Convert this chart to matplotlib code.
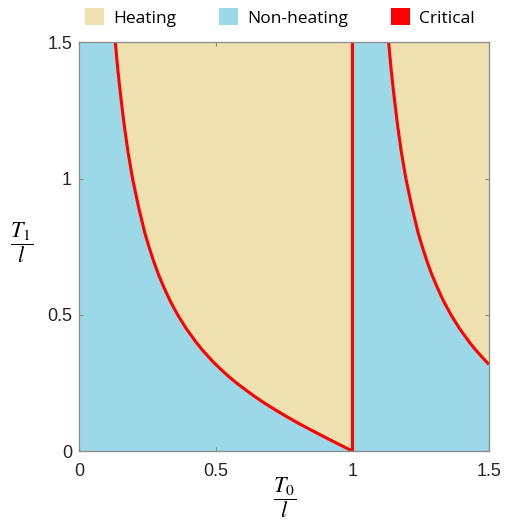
import matplotlib.pyplot as plt
from matplotlib.patches import Patch

# left critical curve (T0/l, T1/l)
t0_a = [0.133, 0.142, 0.153, 0.165, 0.179, 0.196, 0.217, 0.241, 0.256, 0.272,
        0.290, 0.311, 0.334, 0.361, 0.392, 0.428, 0.448, 0.470, 0.493, 0.519,
        0.546, 0.576, 0.609, 0.643, 0.680, 0.720, 0.762, 0.806, 0.853, 0.901,
        0.950, 1.0]
t1_a = [1.5, 1.4, 1.3, 1.2, 1.1, 1.0, 0.9, 0.8, 0.75, 0.7,
        0.65, 0.6, 0.55, 0.5, 0.45, 0.4, 0.375, 0.35, 0.325, 0.3,
        0.275, 0.25, 0.225, 0.2, 0.175, 0.15, 0.125, 0.1, 0.075, 0.05,
        0.025, 0.0]

# right critical curve
t0_b = [1.133, 1.142, 1.153, 1.165, 1.179, 1.196, 1.217, 1.241, 1.256, 1.272,
        1.290, 1.311, 1.334, 1.361, 1.392, 1.428, 1.448, 1.470, 1.493, 1.5]
t1_b = [1.5, 1.4, 1.3, 1.2, 1.1, 1.0, 0.9, 0.8, 0.75, 0.7,
        0.65, 0.6, 0.55, 0.5, 0.45, 0.4, 0.375, 0.35, 0.325, 0.318]

# vertical critical line
t0_v = [1.0, 1.0]
t1_v = [0.0, 1.5]

x_max = 1.5
y_max = 1.5
ticks = [0, 0.5, 1, 1.5]
tick_labels = ['0', '0.5', '1', '1.5']

heat_col = '#EEE1AF'
cold_col = '#9BD8E8'
crit_col = '#FF0000'
grey = '#8a8a8a'

plt.rcParams['font.family'] = ['Liberation Sans', 'DejaVu Sans']
plt.rcParams['mathtext.fontset'] = 'stix'

fig = plt.figure(figsize=(5.05, 5.22), dpi=100)
ax = fig.add_axes([79 / 505, 71 / 522, 410 / 505, 408.5 / 522])
ax.set_facecolor(cold_col)

# heating regions
ax.fill(t0_a + [t0_v[1]], t1_a + [t1_v[1]], color=heat_col, lw=0)
ax.fill(t0_b + [x_max], t1_b + [y_max], color=heat_col, lw=0)

ax.plot(t0_a, t1_a, color=crit_col, lw=2.2, solid_capstyle='butt')
ax.plot(t0_b, t1_b, color=crit_col, lw=2.2, solid_capstyle='butt')
ax.plot(t0_v, t1_v, color=crit_col, lw=2.2, solid_capstyle='butt')

ax.set_xlim(0, x_max)
ax.set_ylim(0, y_max)
ax.set_xticks(ticks)
ax.set_xticklabels(tick_labels)
ax.set_yticks(ticks)
ax.set_yticklabels(tick_labels)
ax.tick_params(direction='in', length=3, width=0.8, color=grey,
               labelsize=13, labelcolor='#262626', top=True, right=True)
ax.tick_params(axis='x', pad=9)
ax.tick_params(axis='y', pad=5)
for s in ax.spines.values():
    s.set_color(grey)
    s.set_linewidth(0.9)

fig.text(285 / 505, 1 - 498 / 522, r'$\dfrac{T_0}{l}$', fontsize=16,
         ha='center', va='center')
fig.text(21.5 / 505, 1 - 243 / 522, r'$\dfrac{T_1}{l}$', fontsize=16,
         ha='center', va='center')

handles = [Patch(facecolor=heat_col, edgecolor='none', label='Heating'),
           Patch(facecolor=cold_col, edgecolor='none', label='Non-heating'),
           Patch(facecolor=crit_col, edgecolor='none', label='Critical')]
fig.legend(handles=handles, loc='center', bbox_to_anchor=(280 / 505, 1 - 17.5 / 522),
           ncol=3, frameon=False, prop={'family': 'Open Sans', 'size': 12.5},
           handlelength=1.1, handleheight=1.1, handletextpad=0.5,
           columnspacing=2.5, borderpad=0)

fig.savefig('out.png', dpi=100)
